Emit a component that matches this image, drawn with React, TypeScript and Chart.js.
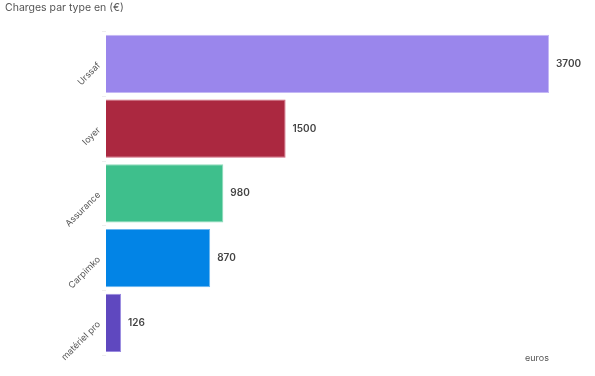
import React, { useEffect, useRef } from "react";
import { Chart, registerables } from "chart.js";

Chart.register(...registerables);

const categories = ["Urssaf", "loyer", "Assurance", "Carpimko", "matériel pro"];
const values = [3700, 1500, 980, 870, 126];
const barColors = ["#9a86ec", "#ab2840", "#3ebf8c", "#0284e6", "#5f48bf"];
const borderColors = ["#c4b8f5", "#d0627a", "#8fdcbb", "#6ab6f0", "#9a8ae0"];
const titleText = "Charges par type en (€)";
const axisTitle = "euros";

const valueLabels = {
  id: "valueLabels",
  afterDatasetsDraw(chart: any) {
    const ctx = chart.ctx;
    const meta = chart.getDatasetMeta(0);
    ctx.save();
    ctx.font = "600 10px Inter, 'Noto Sans', sans-serif";
    ctx.fillStyle = "#444";
    ctx.textBaseline = "middle";
    ctx.textAlign = "left";
    meta.data.forEach((bar: any, i: number) => {
      ctx.fillText(String(values[i]), bar.x + 7, bar.y);
    });
    ctx.restore();
  },
};

export default function App() {
  const ref = useRef<HTMLCanvasElement>(null);
  useEffect(() => {
    const chart = new Chart(ref.current!, {
      type: "bar",
      data: {
        labels: categories,
        datasets: [
          {
            data: values,
            backgroundColor: barColors,
            borderColor: borderColors,
            borderWidth: 1,
            barPercentage: 0.9,
            categoryPercentage: 1,
          },
        ],
      },
      options: {
        indexAxis: "y",
        animation: false,
        responsive: false,
        layout: { padding: { left: 0, right: 46, top: 0, bottom: 12 } },
        plugins: {
          legend: { display: false },
          tooltip: { enabled: false },
          title: {
            display: true,
            text: titleText,
            align: "start",
            color: "#555",
            font: { family: "Inter, 'Noto Sans', sans-serif", size: 10.5, weight: "normal" },
            padding: { top: 2, bottom: 17 },
          },
        },
        scales: {
          x: {
            min: 0,
            max: 3700,
            grid: { display: false, drawTicks: false },
            border: { display: false },
            ticks: { display: false },
            title: {
              display: true,
              text: axisTitle,
              align: "end",
              color: "#555",
              font: { family: "Inter, 'Noto Sans', sans-serif", size: 9 },
              padding: { top: -2, bottom: 0 },
            },
          },
          y: {
            afterFit(scale: any) {
              scale.width = 101;
            },
            grid: { display: true, drawOnChartArea: false, tickLength: 4, color: "#eee" },
            border: { display: false },
            ticks: {
              minRotation: 45,
              maxRotation: 45,
              color: "#555",
              font: { family: "Inter, 'Noto Sans', sans-serif", size: 9 },
            },
          },
        },
      },
      plugins: [valueLabels],
    });
    return () => chart.destroy();
  }, []);
  return (
    <div style={{ position: "absolute", left: 0, top: 0, width: 595, height: 376, background: "#fff" }}>
      <canvas ref={ref} width={590} height={376} style={{ marginLeft: 5, display: "block" }} />
    </div>
  );
}
